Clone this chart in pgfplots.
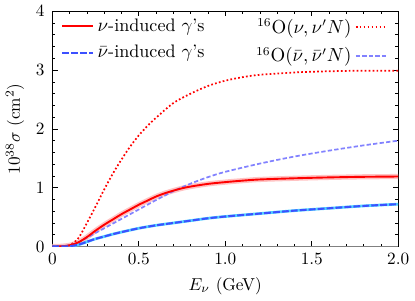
\documentclass[border=0pt]{standalone}
\usepackage{pgfplots}
\pgfplotsset{compat=1.18}
\usepackage{pgfplotstable}
\definecolor{myred}{RGB}{255,0,0}
\definecolor{myblue}{RGB}{60,80,255}
\definecolor{lightblue}{RGB}{130,130,255}
\definecolor{bandcyan}{RGB}{80,210,255}
\definecolor{bandpink}{RGB}{255,195,195}

\pgfplotstableread{
E s
0 0
0.05 0.003
0.1 0.02
0.15 0.07
0.2 0.16
0.25 0.27
0.3 0.37
0.35 0.46
0.4 0.55
0.45 0.63
0.5 0.71
0.55 0.78
0.6 0.85
0.65 0.905
0.7 0.95
0.75 0.99
0.8 1.02
0.9 1.065
1.0 1.095
1.1 1.12
1.2 1.14
1.4 1.16
1.6 1.175
1.8 1.185
2.0 1.19
}\nugamma

\pgfplotstableread{
E s
0 0
0.05 0.001
0.1 0.005
0.15 0.03
0.2 0.08
0.25 0.13
0.3 0.17
0.35 0.21
0.4 0.245
0.5 0.31
0.6 0.36
0.7 0.40
0.8 0.44
0.9 0.48
1.0 0.51
1.2 0.56
1.4 0.61
1.6 0.65
1.8 0.69
2.0 0.72
}\nubargamma

\pgfplotstableread{
E s
0 0
0.05 0.002
0.1 0.02
0.15 0.14
0.2 0.40
0.25 0.68
0.3 0.97
0.35 1.24
0.4 1.48
0.45 1.70
0.5 1.89
0.55 2.05
0.6 2.19
0.7 2.44
0.8 2.60
0.9 2.73
1.0 2.82
1.1 2.88
1.2 2.92
1.4 2.96
1.6 2.98
1.8 2.99
2.0 2.99
}\nuN

\pgfplotstableread{
E s
0 0
0.05 0.002
0.1 0.02
0.15 0.07
0.2 0.15
0.25 0.23
0.3 0.31
0.35 0.39
0.4 0.47
0.45 0.55
0.5 0.63
0.55 0.71
0.6 0.79
0.7 0.94
0.8 1.07
0.9 1.18
1.0 1.27
1.2 1.41
1.4 1.53
1.6 1.63
1.8 1.72
2.0 1.80
}\nubarN

\begin{document}
\begin{tikzpicture}
\pgfplotsset{
  common/.style={
    scale only axis,
    width=200bp, height=136bp,
    xmin=0, xmax=2, ymin=0, ymax=4,
  }
}
\begin{axis}[
  common,
  xtick={0,0.5,1,1.5,2},
  xticklabels={0,0.5,1.0,1.5,2.0},
  ytick={0,1,2,3,4},
  minor x tick num=4,
  minor y tick num=4,
  tick align=inside,
  major tick length=3bp,
  minor tick length=1.6bp,
  tick style={black, line width=0.4pt},
  axis line style={line width=0.5pt},
  xlabel={$E_\nu$ (GeV)},
  ylabel={$10^{38}\sigma$ (cm$^2$)},
  yticklabel style={xshift=-1bp},
  xticklabel style={yshift=-0.5bp},
  legend style={at={(0.02,0.992)}, anchor=north west, draw=none, fill=none,
    row sep=2.6pt, font=\fontsize{10.5}{12}\selectfont, inner sep=1pt},
  legend cell align=left,
  legend image code/.code={\draw[#1] (0cm,0cm) -- (0.63cm,0cm);},
]
\addplot[draw=gray, line width=1pt, forget plot] coordinates {(0,0) (2,0)};
\addplot[bandpink, line width=3pt, smooth, forget plot] table[x=E,y=s] {\nugamma};
\addplot[bandcyan, line width=1.6pt, smooth, forget plot] table[x=E,y=s] {\nubargamma};
\addplot[myred, line width=1pt, dash pattern=on 1pt off 1.3pt, smooth, forget plot] table[x=E,y=s] {\nuN};
\addplot[lightblue, line width=1pt, dash pattern=on 2.5pt off 1.3pt, smooth, forget plot] table[x=E,y=s] {\nubarN};
\addplot[myred, line width=1.1pt, smooth] table[x=E,y=s] {\nugamma};
\addlegendentry{$\nu$-induced $\gamma$'s}
\addplot[myblue, line width=1.2pt, dash pattern=on 4pt off 1.2pt, smooth] table[x=E,y=s] {\nubargamma};
\addlegendentry{$\bar\nu$-induced $\gamma$'s}
\end{axis}
\begin{axis}[
  common,
  hide axis,
  legend style={at={(0.975,0.992)}, anchor=north east, draw=none, fill=none,
    row sep=2.6pt, font=\fontsize{10.5}{12}\selectfont, inner sep=1pt},
  legend cell align=right,
  legend plot pos=right,
  legend image code/.code={\draw[#1] (0cm,0cm) -- (0.63cm,0cm);},
]
\addlegendimage{draw=myred, line width=1pt, dash pattern=on 1pt off 1.3pt}
\addlegendentry{$^{16}\mathrm{O}(\nu,\nu' N)$}
\addlegendimage{draw=lightblue, line width=1pt, dash pattern=on 2.5pt off 1.3pt}
\addlegendentry{$^{16}\mathrm{O}(\bar\nu,\bar\nu' N)$}
\end{axis}
\end{tikzpicture}
\end{document}
